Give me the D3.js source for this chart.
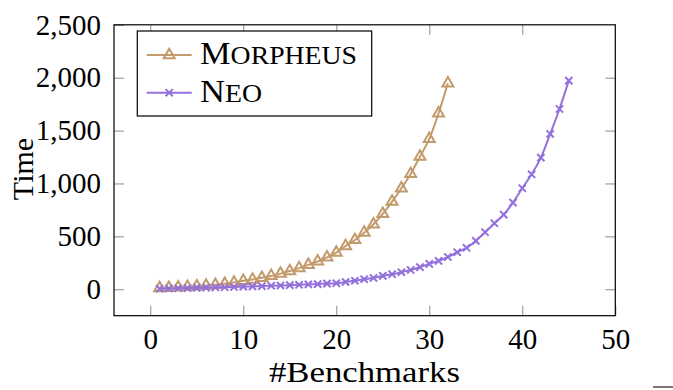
<!DOCTYPE html>
<html>
<head>
<meta charset="utf-8">
<script src="https://cdn.jsdelivr.net/npm/d3@7"></script>
<style>
  html, body { margin: 0; padding: 0; background: #fff; }
</style>
</head>
<body>
<svg id="chart" width="673" height="390"></svg>
<script>
// Benchmark counts and cumulative solving time for each tool
const morpheusX = d3.range(1, 33);
const morpheusY = [10, 14, 18, 22, 28, 34, 42, 52, 64, 80, 92, 108, 126, 148, 172, 200,
                   230, 264, 302, 346, 409, 466, 535, 614, 712, 828, 955, 1090, 1254, 1421, 1664, 1947];
const neoX = d3.range(1, 46);
const neoY = [5, 7, 9, 11, 13, 15, 17, 19, 21, 24, 27, 30, 33, 36, 39, 42, 46, 49, 53, 57,
              69, 81, 95, 107, 126, 142, 161, 182, 209, 240, 268, 305, 350, 392, 457, 539,
              624, 705, 819, 955, 1087, 1244, 1468, 1704, 1972];
const xTicks = [0, 10, 20, 30, 40, 50];
const yTicks = [0, 500, 1000, 1500, 2000, 2500];
const seriesNames = ["Morpheus", "Neo"];
const seriesColors = ["#c39a6b", "#9370db"];

const FONT = "Liberation Serif, DejaVu Serif, serif";

const svg = d3.select("#chart");
const plotLeft = 114, plotRight = 615.3, plotTop = 24.8, plotBottom = 315.7;

const x = d3.scaleLinear().domain([-3.9, 50]).range([plotLeft, plotRight]);
const y = d3.scaleLinear().domain([-250, 2500]).range([plotBottom, plotTop]);

const tickLen = 10, tickColor = "#8c8c8c";

function styleAxis(g) {
  g.attr("font-family", FONT).attr("font-size", 29);
  g.select(".domain").remove();
  g.selectAll(".tick line").attr("stroke", tickColor).attr("stroke-width", 1);
  g.selectAll(".tick text").attr("fill", "#000");
}

svg.append("g").attr("transform", `translate(0,${plotBottom})`)
  .call(d3.axisBottom(x).tickValues(xTicks).tickSize(-tickLen).tickPadding(12.7))
  .call(styleAxis);
svg.append("g").attr("transform", `translate(0,${plotTop})`)
  .call(d3.axisTop(x).tickValues(xTicks.filter(v => v < 50)).tickSize(-tickLen).tickFormat(""))
  .call(styleAxis);
svg.append("g").attr("transform", `translate(${plotLeft},0)`)
  .call(d3.axisLeft(y).tickValues(yTicks).tickSize(-tickLen).tickPadding(13).tickFormat(d3.format(",")))
  .call(styleAxis);
svg.append("g").attr("transform", `translate(${plotRight},0)`)
  .call(d3.axisRight(y).tickValues(yTicks.filter(v => v < 2500)).tickSize(-tickLen).tickFormat(""))
  .call(styleAxis);

// Frame
svg.append("rect")
  .attr("x", plotLeft).attr("y", plotTop)
  .attr("width", plotRight - plotLeft).attr("height", plotBottom - plotTop)
  .attr("fill", "none").attr("stroke", "#000").attr("stroke-width", 1.2);

// Axis titles
svg.append("text")
  .attr("x", 364.5).attr("y", 382)
  .attr("text-anchor", "middle").attr("font-family", FONT).attr("font-size", 30)
  .attr("textLength", 191).attr("lengthAdjust", "spacingAndGlyphs")
  .text("#Benchmarks");
svg.append("text")
  .attr("transform", "translate(33,169) rotate(-90)")
  .attr("text-anchor", "middle").attr("font-family", FONT).attr("font-size", 30)
  .text("Time");

// Series
const line = d3.line().x(d => x(d[0])).y(d => y(d[1])).curve(d3.curveMonotoneX);
const tri = d3.symbol().type(d3.symbolTriangle).size(52);
const cross = (r) => `M${-r},${-r}L${r},${r}M${-r},${r}L${r},${-r}`;

const morpheus = morpheusX.map((v, i) => [v, morpheusY[i]]);
const neo = neoX.map((v, i) => [v, neoY[i]]);

function drawTriangle(g, cx, cy, color) {
  g.append("path").attr("d", tri()).attr("transform", `translate(${cx},${cy})`)
    .attr("fill", "none").attr("stroke", color).attr("stroke-width", 2);
}
function drawCross(g, cx, cy, color) {
  g.append("path").attr("d", cross(3.6)).attr("transform", `translate(${cx},${cy})`)
    .attr("fill", "none").attr("stroke", color).attr("stroke-width", 2);
}

const gM = svg.append("g");
gM.append("path").datum(morpheus).attr("d", line)
  .attr("fill", "none").attr("stroke", seriesColors[0]).attr("stroke-width", 2);
morpheus.forEach(d => drawTriangle(gM, x(d[0]), y(d[1]), seriesColors[0]));

const gN = svg.append("g");
gN.append("path").datum(neo).attr("d", line)
  .attr("fill", "none").attr("stroke", seriesColors[1]).attr("stroke-width", 2);
neo.forEach(d => drawCross(gN, x(d[0]), y(d[1]), seriesColors[1]));

// Legend
const lg = svg.append("g");
lg.append("rect").attr("x", 137.3).attr("y", 31).attr("width", 234.4).attr("height", 85)
  .attr("fill", "#fff").attr("stroke", "#000").attr("stroke-width", 1.2);
const rows = [55, 92.7];
rows.forEach((ry, i) => {
  lg.append("line").attr("x1", 146.7).attr("x2", 191.7).attr("y1", ry).attr("y2", ry)
    .attr("stroke", seriesColors[i]).attr("stroke-width", 2);
  if (i === 0) drawTriangle(lg, 169.2, ry, seriesColors[i]);
  else drawCross(lg, 169.2, ry, seriesColors[i]);
  const name = seriesNames[i];
  const t = lg.append("text").attr("x", 200).attr("y", ry + 9.3)
    .attr("font-family", FONT)
    .attr("textLength", i === 0 ? 157 : 62).attr("lengthAdjust", "spacingAndGlyphs");
  t.append("tspan").attr("font-size", 31).text(name[0]);
  t.append("tspan").attr("font-size", 25).text(name.slice(1).toUpperCase());
});

// Short rule at the lower right corner
svg.append("line").attr("x1", 653).attr("x2", 673).attr("y1", 387).attr("y2", 387)
  .attr("stroke", "#777").attr("stroke-width", 2);
</script>
</body>
</html>
